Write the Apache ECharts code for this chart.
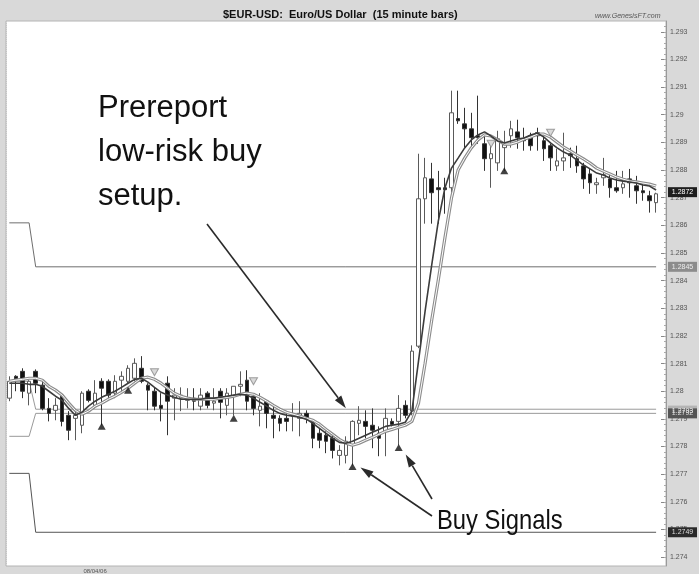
<!DOCTYPE html>
<html>
<head>
<meta charset="utf-8">
<title>$EUR-USD 15 minute bars</title>
<script src="https://cdn.jsdelivr.net/npm/echarts@6/dist/echarts.min.js"></script>
<style>
  html, body { margin: 0; padding: 0; background: #d9d9d9; }
  #main { width: 699px; height: 574px; }
</style>
</head>
<body>
<div id="main"></div>
<script type="text/javascript">
// 15-minute EUR/USD bars (open / close / low / high)
var candleOpen = [
  1.27975, 1.28054, 1.28072, 1.27993, 1.28072, 1.28022, 1.27938, 1.27931, 1.27982, 1.27913,
  1.27902, 1.27877, 1.28000, 1.27949, 1.28036, 1.28036, 1.27993, 1.28040, 1.28036, 1.28047,
  1.28083, 1.28022, 1.28000, 1.27949, 1.28029, 1.27975, 1.27975, 1.27967, 1.27975, 1.27946,
  1.27993, 1.27957, 1.28000, 1.27949, 1.27982, 1.28018, 1.28040, 1.27982, 1.27931, 1.27964,
  1.27913, 1.27902, 1.27902, 1.27909, 1.27902, 1.27920, 1.27895, 1.27848, 1.27841, 1.27830,
  1.27768, 1.27768, 1.27805, 1.27884, 1.27891, 1.27877, 1.27848, 1.27855, 1.27891, 1.27891,
  1.27949, 1.27928, 1.28163, 1.28696, 1.28768, 1.28736, 1.28736, 1.28736, 1.28986, 1.28967,
  1.28949, 1.28924, 1.28895, 1.28841, 1.28826, 1.28881, 1.28924, 1.28938, 1.28913, 1.28924,
  1.28935, 1.28906, 1.28888, 1.28815, 1.28833, 1.28859, 1.28841, 1.28815, 1.28786, 1.28747,
  1.28772, 1.28768, 1.28736, 1.28736, 1.28768, 1.28743, 1.28725, 1.28707, 1.28682
];
var candleClose = [
  1.28036, 1.28040, 1.28000, 1.28036, 1.28029, 1.27938, 1.27920, 1.27949, 1.27891, 1.27859,
  1.27913, 1.27993, 1.27967, 1.27993, 1.28011, 1.27986, 1.28036, 1.28054, 1.28083, 1.28101,
  1.28036, 1.28004, 1.27946, 1.27938, 1.27964, 1.27986, 1.27986, 1.27975, 1.27964, 1.27986,
  1.27949, 1.27964, 1.27960, 1.27993, 1.28018, 1.28025, 1.27964, 1.27938, 1.27946, 1.27920,
  1.27902, 1.27884, 1.27891, 1.27920, 1.27920, 1.27902, 1.27830, 1.27823, 1.27819, 1.27786,
  1.27786, 1.27819, 1.27891, 1.27895, 1.27873, 1.27859, 1.27830, 1.27902, 1.27880, 1.27938,
  1.27913, 1.28145, 1.28696, 1.28772, 1.28718, 1.28729, 1.28729, 1.29007, 1.28978, 1.28949,
  1.28917, 1.28917, 1.28841, 1.28859, 1.28913, 1.28895, 1.28949, 1.28917, 1.28906, 1.28888,
  1.28924, 1.28877, 1.28844, 1.28833, 1.28844, 1.28852, 1.28815, 1.28768, 1.28754, 1.28754,
  1.28783, 1.28736, 1.28725, 1.28750, 1.28754, 1.28725, 1.28718, 1.28689, 1.28714
];
var candleLow = [
  1.27964, 1.28000, 1.27975, 1.27949, 1.27993, 1.27931, 1.27891, 1.27895, 1.27873, 1.27823,
  1.27823, 1.27848, 1.27960, 1.27938, 1.27877, 1.27975, 1.27975, 1.28000, 1.28029, 1.28036,
  1.28029, 1.27931, 1.27931, 1.27891, 1.27841, 1.27895, 1.27928, 1.27938, 1.27931, 1.27931,
  1.27938, 1.27931, 1.27902, 1.27913, 1.27913, 1.27982, 1.27931, 1.27913, 1.27873, 1.27866,
  1.27830, 1.27855, 1.27855, 1.27855, 1.27837, 1.27884, 1.27794, 1.27794, 1.27776, 1.27757,
  1.27732, 1.27739, 1.27732, 1.27841, 1.27830, 1.27794, 1.27765, 1.27765, 1.27873, 1.27805,
  1.27902, 1.27913, 1.28156, 1.28606, 1.28606, 1.28606, 1.28642, 1.28718, 1.28967, 1.28881,
  1.28881, 1.28895, 1.28797, 1.28736, 1.28797, 1.28797, 1.28881, 1.28877, 1.28870, 1.28870,
  1.28870, 1.28833, 1.28797, 1.28797, 1.28797, 1.28808, 1.28790, 1.28732, 1.28714, 1.28714,
  1.28743, 1.28700, 1.28718, 1.28714, 1.28700, 1.28678, 1.28689, 1.28646, 1.28646
];
var candleHigh = [
  1.28054, 1.28058, 1.28083, 1.28040, 1.28079, 1.28036, 1.27975, 1.27975, 1.27993, 1.27928,
  1.27928, 1.28000, 1.28007, 1.28040, 1.28047, 1.28043, 1.28058, 1.28072, 1.28094, 1.28119,
  1.28127, 1.28029, 1.28014, 1.27993, 1.28054, 1.28011, 1.28014, 1.28011, 1.28011, 1.28011,
  1.28000, 1.28011, 1.28011, 1.28011, 1.28018, 1.28072, 1.28076, 1.27993, 1.27993, 1.27967,
  1.27949, 1.27913, 1.27928, 1.27957, 1.27964, 1.27931, 1.27895, 1.27866, 1.27855, 1.27841,
  1.27805, 1.27837, 1.27895, 1.27946, 1.27931, 1.27938, 1.27873, 1.27938, 1.27902, 1.27986,
  1.27967, 1.28166, 1.28859, 1.28844, 1.28826, 1.28797, 1.28772, 1.29087, 1.29087, 1.29025,
  1.29007, 1.29069, 1.28931, 1.28888, 1.28942, 1.28942, 1.28978, 1.28982, 1.28953, 1.28935,
  1.28953, 1.28924, 1.28895, 1.28877, 1.28935, 1.28881, 1.28888, 1.28826, 1.28804, 1.28772,
  1.28844, 1.28790, 1.28797, 1.28797, 1.28804, 1.28779, 1.28750, 1.28725, 1.28718
];

// the two moving-average lines as drawn on the chart
var maFast = [
  1.28029, 1.28029, 1.28029, 1.28025, 1.28025, 1.28018, 1.28000, 1.27982, 1.27967, 1.27938,
  1.27913, 1.27924, 1.27946, 1.27964, 1.27978, 1.27989, 1.28000, 1.28014, 1.28029, 1.28043,
  1.28047, 1.28033, 1.28014, 1.27996, 1.27986, 1.27978, 1.27971, 1.27971, 1.27971, 1.27971,
  1.27975, 1.27975, 1.27978, 1.27982, 1.27986, 1.27989, 1.27986, 1.27975, 1.27960, 1.27946,
  1.27931, 1.27920, 1.27913, 1.27910, 1.27906, 1.27899, 1.27884, 1.27866, 1.27848, 1.27830,
  1.27815, 1.27812, 1.27819, 1.27830, 1.27841, 1.27852, 1.27862, 1.27873, 1.27877, 1.27881,
  1.27888, 1.27928, 1.28109, 1.28290, 1.28456, 1.28615, 1.28735, 1.28807, 1.28843, 1.28880,
  1.28909, 1.28927, 1.28938, 1.28923, 1.28905, 1.28898, 1.28905, 1.28912, 1.28916, 1.28927,
  1.28934, 1.28919, 1.28898, 1.28880, 1.28865, 1.28854, 1.28836, 1.28818, 1.28804, 1.28789,
  1.28782, 1.28771, 1.28764, 1.28760, 1.28757, 1.28753, 1.28746, 1.28742, 1.28728
];
var maSlow = [
  1.28036, 1.28040, 1.28043, 1.28047, 1.28047, 1.28040, 1.28018, 1.28004, 1.27986, 1.27957,
  1.27931, 1.27917, 1.27928, 1.27946, 1.27957, 1.27971, 1.27982, 1.27996, 1.28011, 1.28029,
  1.28047, 1.28051, 1.28043, 1.28029, 1.28011, 1.27993, 1.27982, 1.27975, 1.27971, 1.27971,
  1.27971, 1.27971, 1.27975, 1.27978, 1.27982, 1.27989, 1.27993, 1.27989, 1.27978, 1.27964,
  1.27949, 1.27935, 1.27924, 1.27917, 1.27910, 1.27902, 1.27895, 1.27881, 1.27862, 1.27844,
  1.27826, 1.27812, 1.27805, 1.27812, 1.27823, 1.27833, 1.27844, 1.27855, 1.27862, 1.27870,
  1.27877, 1.27891, 1.27957, 1.28101, 1.28257, 1.28402, 1.28554, 1.28699, 1.28800, 1.28843,
  1.28880, 1.28909, 1.28927, 1.28923, 1.28909, 1.28894, 1.28894, 1.28901, 1.28912, 1.28919,
  1.28930, 1.28930, 1.28919, 1.28901, 1.28883, 1.28869, 1.28854, 1.28840, 1.28825, 1.28807,
  1.28796, 1.28786, 1.28775, 1.28767, 1.28760, 1.28757, 1.28753, 1.28749, 1.28742
];

// signal markers
var buyBars = [14, 18, 34, 52, 59, 75];
var buyPrices = [1.27873, 1.28004, 1.27902, 1.27728, 1.27797, 1.28797];
var sellBars = [22, 37, 73, 82];
var sellPrices = [1.28069, 1.28036, 1.28895, 1.28935];

// horizontal levels: value carried from the previous day, then the new value
var levelBefore = [1.28609, 1.28036, 1.27837, 1.27703];
var levelAfter = [1.2845, 1.27935, 1.2792, 1.2749];
var levelSwitchBar = 4;

// price tags on the right scale
var tagValues = [1.2793, 1.2792, 1.2845, 1.2872, 1.2749];
var yTickValues = [1.274, 1.275, 1.276, 1.277, 1.278, 1.279, 1.28, 1.281, 1.282, 1.283,
  1.284, 1.285, 1.286, 1.287, 1.288, 1.289, 1.29, 1.291, 1.292, 1.293];
var sessionDate = '08/04/06';
var dateBar = 13;
var barCount = 100;

var categories = [];
for (var i = 0; i < barCount; i++) categories.push(String(i));

var ohlc = [];
for (var i = 0; i < candleOpen.length; i++) {
  ohlc.push([candleOpen[i], candleClose[i], candleLow[i], candleHigh[i]]);
}
var lastBar = candleOpen.length - 1;

var minorTicks = [];
for (var k = 0; k <= 98; k++) minorTicks.push(+(1.274 + k * 0.0002).toFixed(4));

var levelStyles = [
  { color: '#6e6e6e', width: 1 },
  { color: '#9a9a9a', width: 1 },
  { color: '#9a9a9a', width: 1 },
  { color: '#555', width: 1 }
];
var tagStyles = [
  { bg: '#b4b4b4', fg: '#f2f2f2' },
  { bg: '#555555', fg: '#dddddd' },
  { bg: '#8c8c8c', fg: '#eeeeee' },
  { bg: '#1e1e1e', fg: '#ffffff' },
  { bg: '#2a2a2a', fg: '#dddddd' }
];

var series = [];
levelBefore.forEach(function (v, n) {
  series.push({
    type: 'line', symbol: 'none', silent: true, z: 1,
    lineStyle: levelStyles[n],
    data: [[0, v], [levelSwitchBar - 1, v], [levelSwitchBar, levelAfter[n]], [lastBar, levelAfter[n]]]
  });
});
series.push({
  type: 'candlestick',
  barWidth: 4,
  z: 3,
  itemStyle: {
    color: '#ffffff', color0: '#111111',
    borderColor: '#5a5a5a', borderColor0: '#333333', borderWidth: 1
  },
  data: ohlc
});
series.push({
  type: 'line', symbol: 'none', silent: true, z: 4,
  lineStyle: { color: '#8c8c8c', width: 3.2 },
  data: maSlow
});
series.push({
  type: 'line', symbol: 'none', silent: true, z: 4,
  lineStyle: { color: '#ffffff', width: 1 },
  data: maSlow
});
series.push({
  type: 'line', symbol: 'none', silent: true, z: 5,
  lineStyle: { color: '#3c3c3c', width: 1.6 },
  data: maFast
});
series.push({
  type: 'scatter', symbol: 'triangle', symbolSize: [8, 7], z: 6,
  itemStyle: { color: '#111' },
  data: buyBars.map(function (b, n) { return [b, buyPrices[n]]; })
});
series.push({
  type: 'scatter', symbol: 'triangle', symbolRotate: 180, symbolSize: [8, 7], z: 6,
  itemStyle: { color: '#d0d0d0', borderColor: '#8a8a8a', borderWidth: 1 },
  data: sellBars.map(function (b, n) { return [b, sellPrices[n]]; })
});

var chart = echarts.init(document.getElementById('main'));
var option = {
  animation: false,
  backgroundColor: '#d9d9d9',
  title: [
    {
      text: '$EUR-USD:  Euro/US Dollar  (15 minute bars)',
      left: 218, top: 4,
      textStyle: { fontSize: 11, fontWeight: 'bold', fontFamily: 'Liberation Sans', color: '#111' }
    },
    {
      text: 'www.GenesisFT.com',
      left: 590, top: 8,
      textStyle: { fontSize: 7, fontStyle: 'italic', fontWeight: 'normal', fontFamily: 'Liberation Sans', color: '#555' }
    }
  ],
  grid: {
    left: 6, right: 33, top: 21, bottom: 8,
    show: true, backgroundColor: '#ffffff', borderColor: '#b4b4b4', borderWidth: 1,
    outerBoundsMode: 'none'
  },
  xAxis: {
    type: 'category',
    data: categories,
    boundaryGap: true,
    axisLine: { show: false },
    axisTick: { show: false },
    axisLabel: {
      interval: function (index) { return index === dateBar; },
      formatter: function () { return sessionDate; },
      fontSize: 6, color: '#555', margin: 2, fontFamily: 'Liberation Sans'
    },
    splitLine: {
      show: true,
      interval: function (index) { return index === levelSwitchBar; },
      lineStyle: { color: '#c4c4c4', type: 'dotted', width: 1 }
    }
  },
  yAxis: [
    {
      type: 'value',
      position: 'right',
      min: 1.27368, max: 1.29339,
      splitLine: { show: false },
      axisLine: { show: true, lineStyle: { color: '#9a9a9a' } },
      axisTick: { show: true, inside: true, length: 5, customValues: yTickValues, lineStyle: { color: '#888' } },
      axisLabel: {
        customValues: yTickValues,
        formatter: function (v) { return String(parseFloat(v.toFixed(3))); },
        fontSize: 7, color: '#555', margin: 4, fontFamily: 'Liberation Sans'
      }
    },
    {
      type: 'value',
      position: 'right',
      min: 1.27368, max: 1.29339,
      splitLine: { show: false },
      axisLine: { show: false },
      axisTick: { show: true, inside: true, length: 2, customValues: minorTicks, lineStyle: { color: '#aaa' } },
      axisLabel: { show: false }
    }
  ],
  series: series
};
chart.setOption(option);

// annotations: price tags, text and arrows
function arrow(x1, y1, x2, y2) {
  var dx = x2 - x1, dy = y2 - y1;
  var len = Math.sqrt(dx * dx + dy * dy);
  var ux = dx / len, uy = dy / len;
  var bx = x2 - ux * 13, by = y2 - uy * 13;
  var nx = -uy * 4, ny = ux * 4;
  return [
    { type: 'line', z: 50, shape: { x1: x1, y1: y1, x2: bx, y2: by },
      style: { stroke: '#2a2a2a', lineWidth: 1.6 } },
    { type: 'polygon', z: 50, shape: { points: [[x2, y2], [bx + nx, by + ny], [bx - nx, by - ny]] },
      style: { fill: '#2a2a2a' } }
  ];
}
function px(bar, price) {
  return chart.convertToPixel({ xAxisIndex: 0, yAxisIndex: 0 }, [bar, price]);
}

var graphics = [];
tagValues.forEach(function (v, n) {
  var y = px(0, v)[1];
  graphics.push({
    type: 'rect', z: 40, shape: { x: 668, y: y - 5, width: 29, height: 10 },
    style: { fill: tagStyles[n].bg }
  });
  graphics.push({
    type: 'text', z: 41, x: 682.5, y: y,
    style: { text: v.toFixed(4), font: '7px "Liberation Sans", Arial', fill: tagStyles[n].fg,
      align: 'center', verticalAlign: 'middle' }
  });
});

var noteFont = '31px "Liberation Sans", Arial';
graphics.push(
  { type: 'text', z: 50, x: 98, y: 108, style: { text: 'Prereport', font: noteFont, fill: '#111', verticalAlign: 'middle' } },
  { type: 'text', z: 50, x: 98, y: 152, style: { text: 'low-risk buy', font: noteFont, fill: '#111', verticalAlign: 'middle' } },
  { type: 'text', z: 50, x: 98, y: 196, style: { text: 'setup.', font: noteFont, fill: '#111', verticalAlign: 'middle' } },
  { type: 'text', z: 50, x: 437, y: 521, scaleX: 0.85, originX: 0,
    style: { text: 'Buy Signals', font: '28px "Liberation Sans", Arial', fill: '#111', verticalAlign: 'middle' } }
);

var pre = px(51, levelAfter[1]);
var b52 = px(buyBars[3], buyPrices[3]);
var b59 = px(buyBars[4], buyPrices[4]);
graphics = graphics.concat(arrow(207, 224, pre[0], pre[1] - 1));
graphics = graphics.concat(arrow(432, 516, b52[0] + 8, b52[1] + 1));
graphics = graphics.concat(arrow(432, 499, b59[0] + 7, b59[1] + 7));
chart.setOption({ graphic: graphics });

window.addEventListener('resize', function () { chart.resize(); });
</script>
</body>
</html>
